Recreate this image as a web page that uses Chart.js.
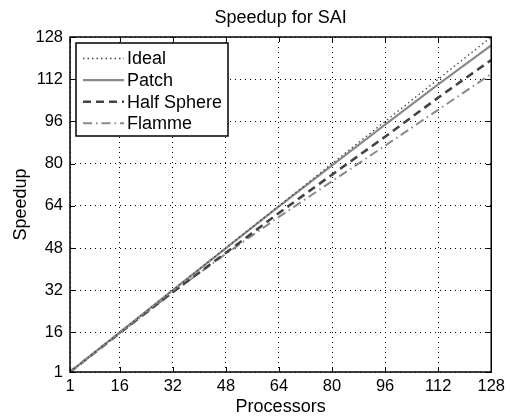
<!DOCTYPE html>
<html>
<head>
<meta charset="utf-8">
<script src="https://cdn.jsdelivr.net/npm/chart.js@4"></script>
<style>
  body { margin: 0; background: #fff; }
  #wrap { width: 510px; height: 419px; }
</style>
</head>
<body>
<div id="wrap"><canvas id="speedupChart" width="510" height="419"></canvas></div>
<script>
// values
const processors = [1, 16, 32, 48, 64, 80, 96, 112, 128];
const ideal = [1, 16, 32, 48, 64, 80, 96, 112, 128];
const patch = [1, 16, 32, 48, 63.8, 79.3, 94.8, 110, 124.8];
const halfSphere = [1, 15.8, 31.3, 46.2, 61.3, 75.8, 90.2, 105, 119.3];
const flamme = [1, 15.8, 31.2, 45.8, 59.8, 73.3, 86.8, 100.4, 114];
const xTicks = [1, 16, 32, 48, 64, 80, 96, 112, 128];
const yTicks = [1, 16, 32, 48, 64, 80, 96, 112, 128];
const chartTitle = "Speedup for SAI";

const FONT = "'Liberation Sans', Arial, Helvetica, sans-serif";

const toPoints = (ys) => processors.map((x, i) => ({ x: x, y: ys[i] }));

// title centred over the axes, not the whole canvas
const axesTitle = {
  id: "axesTitle",
  afterDraw(chart) {
    const { ctx, chartArea: a } = chart;
    ctx.save();
    ctx.font = "18px " + FONT;
    ctx.fillStyle = "#000";
    ctx.textAlign = "center";
    ctx.textBaseline = "alphabetic";
    ctx.fillText(chartTitle, (a.left + a.right) / 2, a.top - 14);
    ctx.restore();
  },
};

// frame box + inward ticks, matlab style
const frameTicks = {
  id: "frameTicks",
  afterDraw(chart) {
    const { ctx, chartArea: a, scales } = chart;
    ctx.save();
    ctx.strokeStyle = "#000";
    ctx.lineWidth = 1;
    const len = 5;
    xTicks.forEach((v) => {
      const px = Math.round(scales.x.getPixelForValue(v)) + 0.5;
      ctx.beginPath();
      ctx.moveTo(px, a.bottom); ctx.lineTo(px, a.bottom - len);
      ctx.moveTo(px, a.top); ctx.lineTo(px, a.top + len);
      ctx.stroke();
    });
    yTicks.forEach((v) => {
      const py = Math.round(scales.y.getPixelForValue(v)) + 0.5;
      ctx.beginPath();
      ctx.moveTo(a.left, py); ctx.lineTo(a.left + len, py);
      ctx.moveTo(a.right, py); ctx.lineTo(a.right - len, py);
      ctx.stroke();
    });
    ctx.lineWidth = 1.5;
    ctx.strokeRect(a.left, a.top, a.right - a.left, a.bottom - a.top);
    ctx.restore();
  },
};

// legend box inside the axes (top left)
const innerLegend = {
  id: "innerLegend",
  afterDraw(chart) {
    const { ctx, chartArea: a } = chart;
    const x0 = a.left + 6, y0 = a.top + 6;
    const w = 152, h = 93, row = 21.6;
    ctx.save();
    ctx.fillStyle = "#fff";
    ctx.fillRect(x0, y0, w, h);
    ctx.strokeStyle = "#000";
    ctx.lineWidth = 1.5;
    ctx.strokeRect(x0, y0, w, h);
    ctx.font = "18px " + FONT;
    ctx.textBaseline = "middle";
    chart.data.datasets.forEach((ds, i) => {
      const cy = y0 + 15.5 + i * row;
      ctx.beginPath();
      ctx.setLineDash(ds.borderDash || []);
      ctx.strokeStyle = ds.borderColor;
      ctx.lineWidth = ds.borderWidth;
      ctx.moveTo(x0 + 7, cy);
      ctx.lineTo(x0 + 48, cy);
      ctx.stroke();
      ctx.setLineDash([]);
      ctx.fillStyle = "#000";
      ctx.fillText(ds.label, x0 + 51, cy + 1);
    });
    ctx.restore();
  },
};

const ctx = document.getElementById("speedupChart").getContext("2d");

new Chart(ctx, {
  type: "line",
  data: {
    datasets: [
      { label: "Ideal", data: toPoints(ideal), borderColor: "#444", borderWidth: 1.3, borderDash: [1.5, 3] },
      { label: "Patch", data: toPoints(patch), borderColor: "#8a8a8a", borderWidth: 2.2 },
      { label: "Half Sphere", data: toPoints(halfSphere), borderColor: "#444", borderWidth: 2.6, borderDash: [8, 5] },
      { label: "Flamme", data: toPoints(flamme), borderColor: "#8a8a8a", borderWidth: 2, borderDash: [9, 4, 1.5, 4] },
    ],
  },
  options: {
    responsive: false,
    animation: false,
    layout: { padding: { left: 0, right: 15, top: 37, bottom: 0 } },
    elements: { point: { radius: 0 }, line: { tension: 0 } },
    plugins: {
      legend: { display: false },
      tooltip: { enabled: false },
      title: { display: false },
    },
    scales: {
      x: {
        type: "linear",
        min: 1,
        max: 128,
        afterFit: (s) => { s.height = 47; },
        afterBuildTicks: (s) => { s.ticks = xTicks.map((v) => ({ value: v })); },
        ticks: { color: "#000", font: { family: FONT, size: 16.5 }, padding: 5, maxRotation: 0, autoSkip: false },
        grid: { color: "#000", lineWidth: 1, drawTicks: false },
        border: { display: false, dash: [1, 4] },
        title: { display: true, text: "Processors", color: "#000", font: { family: FONT, size: 18 }, padding: { top: 0, bottom: 1 } },
      },
      y: {
        type: "linear",
        min: 1,
        max: 128,
        afterFit: (s) => { s.width = 70; },
        afterBuildTicks: (s) => { s.ticks = yTicks.map((v) => ({ value: v })); },
        ticks: { color: "#000", font: { family: FONT, size: 16.5 }, padding: 7, autoSkip: false },
        grid: { color: "#000", lineWidth: 1, drawTicks: false },
        border: { display: false, dash: [1, 4] },
        title: { display: true, text: "Speedup", color: "#000", font: { family: FONT, size: 18 }, padding: { top: 10, bottom: 0 } },
      },
    },
  },
  plugins: [axesTitle, frameTicks, innerLegend],
});
</script>
</body>
</html>
